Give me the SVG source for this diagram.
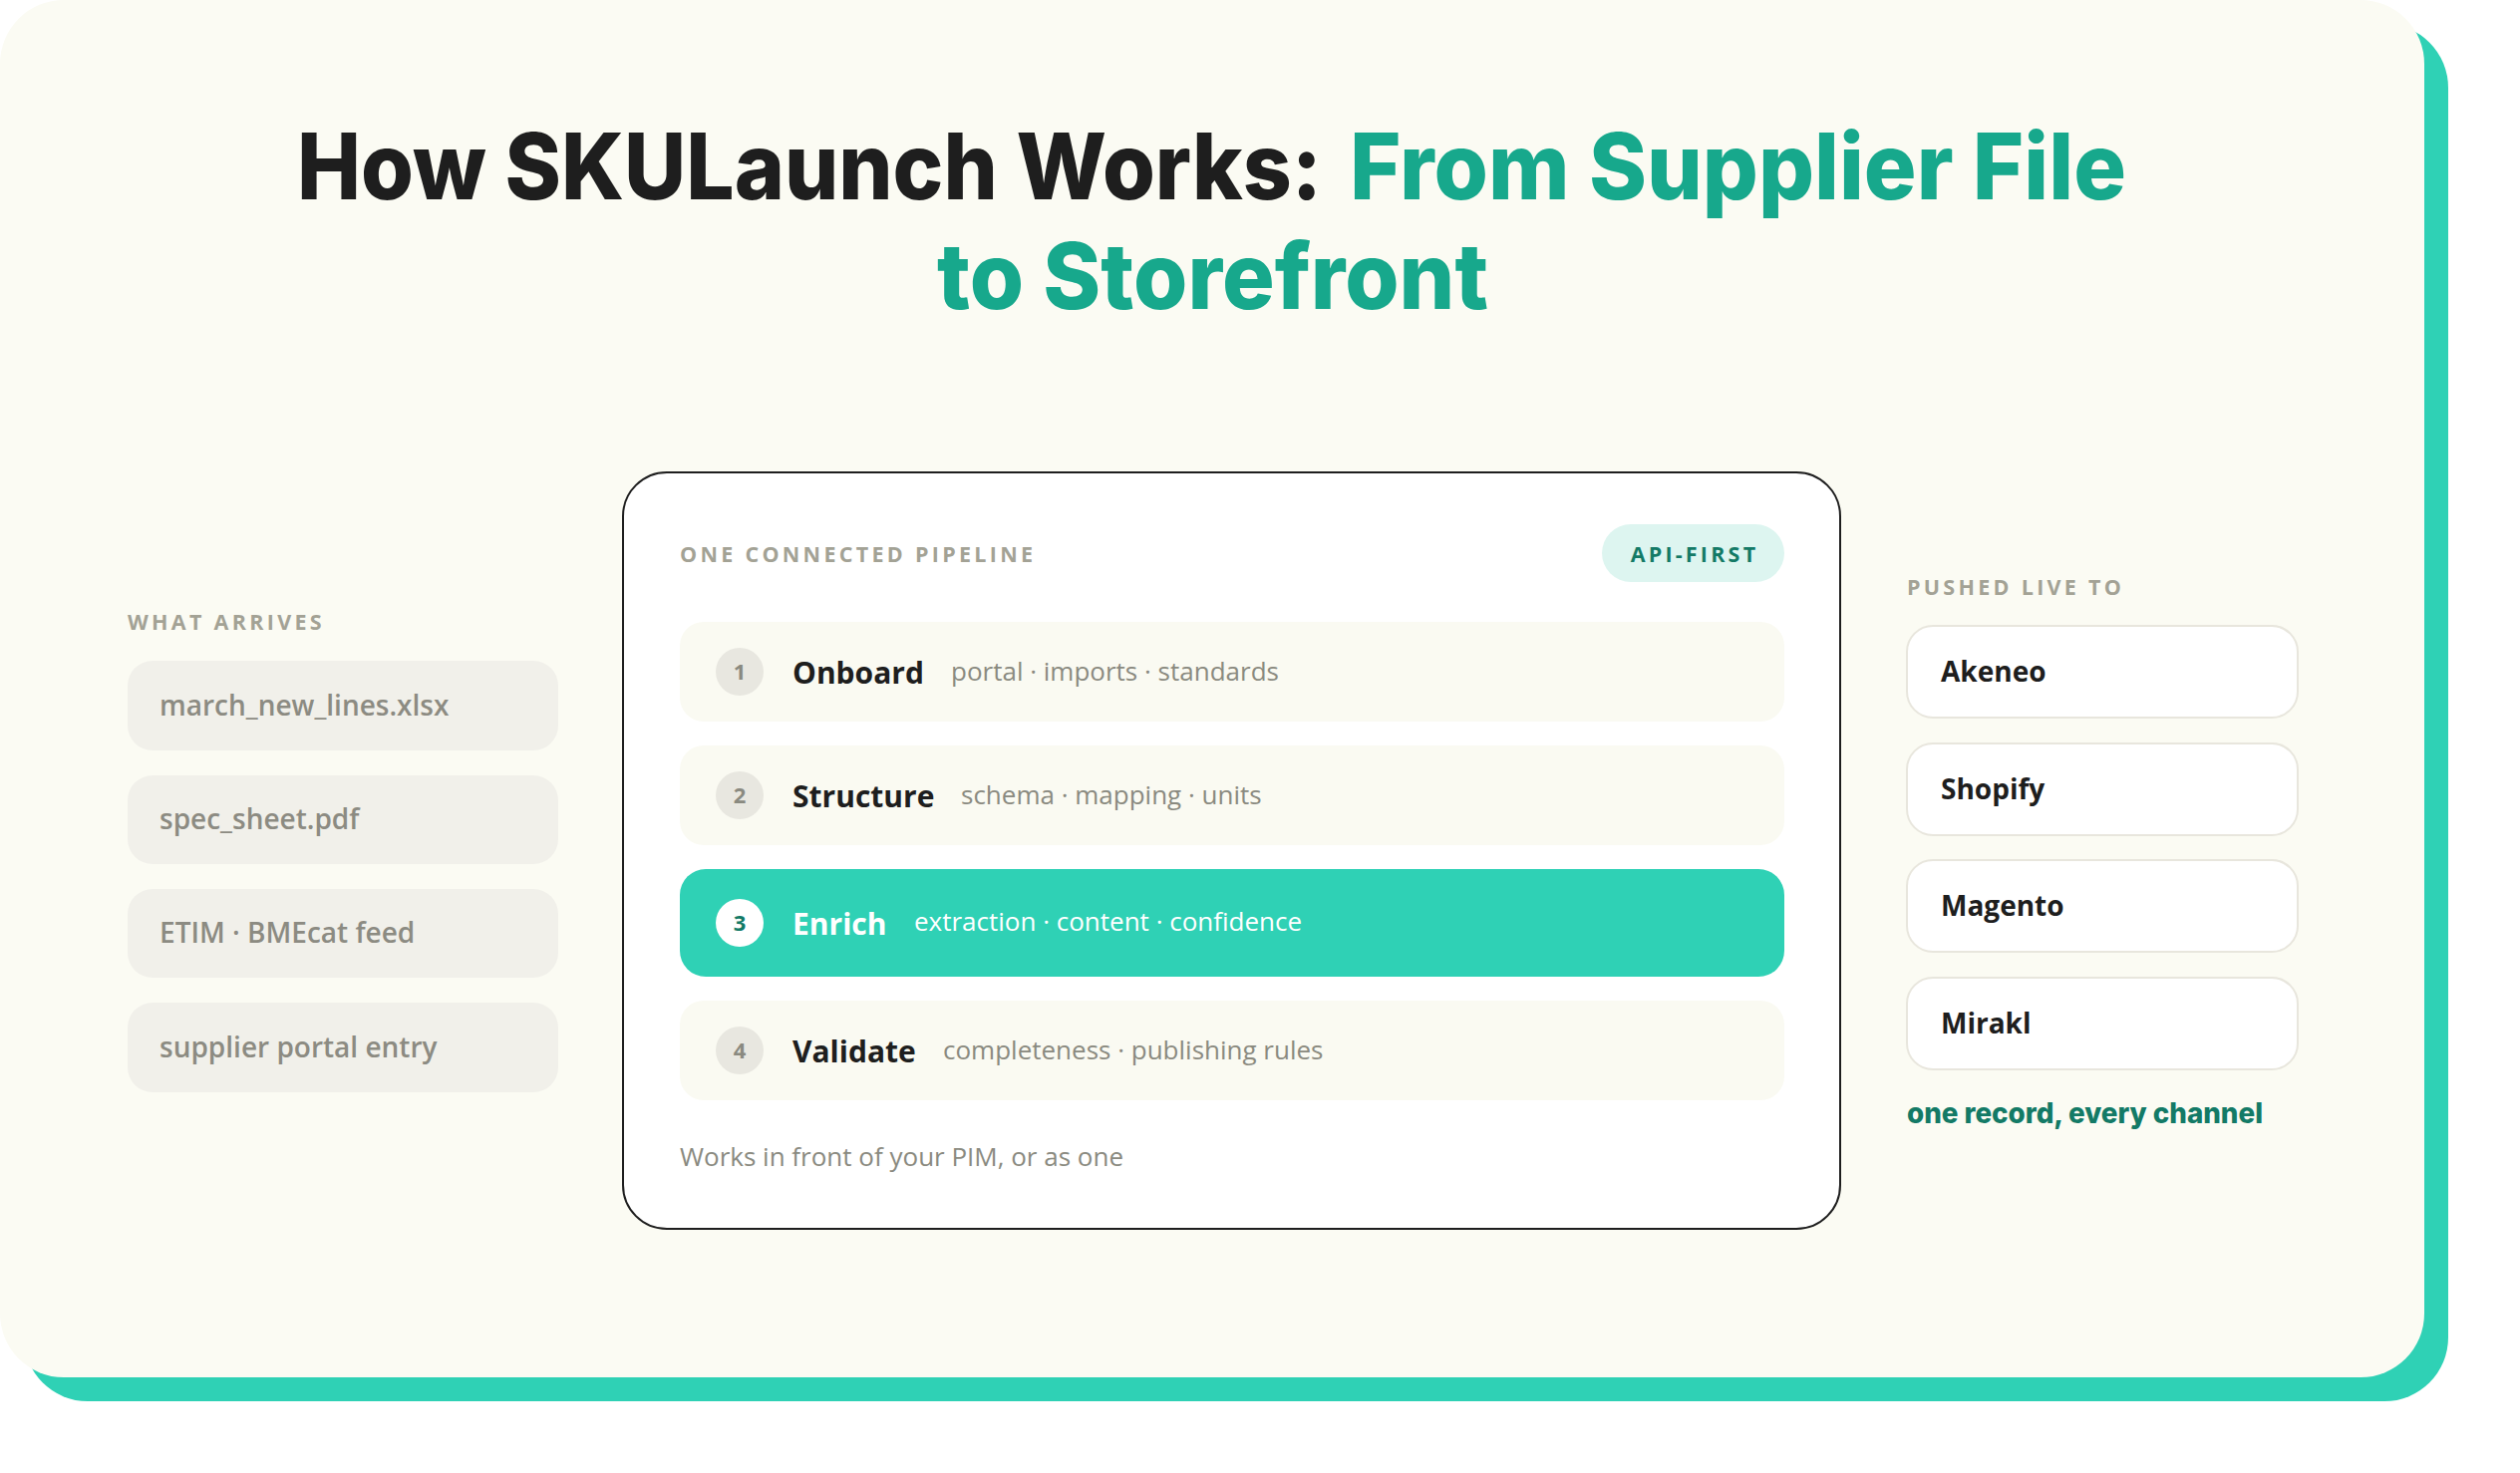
<svg xmlns="http://www.w3.org/2000/svg" width="2528" height="1478" viewBox="0 0 2528 1478">
<style>
.head{font-family:Inter,"Liberation Sans",sans-serif;font-weight:800}
.lbl{font-family:"Open Sans","Liberation Sans",sans-serif;font-weight:700;font-size:21.5px;letter-spacing:3.3px;fill:#A3A295}
.src{font-family:"Open Sans","Liberation Sans",sans-serif;font-weight:600;font-size:28px;fill:#8C8B82}
.srcbox{fill:#F1F0EA}
.row{fill:#FAFAF2}
.num{font-family:"Open Sans","Liberation Sans",sans-serif;font-weight:700;font-size:22px;fill:#8A8A80;text-anchor:middle}
.ttl{font-family:"Open Sans","Liberation Sans",sans-serif;font-weight:700;font-size:30px;fill:#1E1E1E}
.dsc{font-family:"Open Sans","Liberation Sans",sans-serif;font-weight:400;font-size:26px;fill:#8A8A80}
.dst{fill:#FFFFFF;stroke:#E8E6DD;stroke-width:2}
.dstt{font-family:"Open Sans","Liberation Sans",sans-serif;font-weight:700;font-size:28px;fill:#1E1E1E}
</style>
<rect x="0" y="0" width="2528" height="1478" fill="#FFFFFF"/>
<rect x="24" y="24" width="2432" height="1382" rx="64" fill="#2FD1B5"/>
<rect x="0" y="0" width="2432" height="1382" rx="64" fill="#FBFBF3"/>

<g id="title">
<text class="head" x="298" y="200" font-size="92" fill="#1E1E1E" textLength="1028" lengthAdjust="spacingAndGlyphs">How SKULaunch Works:</text>
<text class="head" x="1354" y="200" font-size="92" fill="#17A88C" textLength="779" lengthAdjust="spacingAndGlyphs">From Supplier File</text>
<text class="head" x="940" y="310" font-size="92" fill="#17A88C" textLength="553" lengthAdjust="spacingAndGlyphs">to Storefront</text>
</g>

<g id="sources">
<text class="lbl" x="128" y="632">WHAT ARRIVES</text>
<g id="src-1"><rect class="srcbox" x="128" y="663" width="432" height="90" rx="25"/><text class="src" x="160" y="718">march_new_lines.xlsx</text></g>
<g id="src-2"><rect class="srcbox" x="128" y="778" width="432" height="89" rx="25"/><text class="src" x="160" y="832">spec_sheet.pdf</text></g>
<g id="src-3"><rect class="srcbox" x="128" y="892" width="432" height="89" rx="25"/><text class="src" x="160" y="946">ETIM · BMEcat feed</text></g>
<g id="src-4"><rect class="srcbox" x="128" y="1006" width="432" height="90" rx="25"/><text class="src" x="160" y="1061">supplier portal entry</text></g>
</g>

<g id="pipeline">
<rect x="625" y="474" width="1221" height="759" rx="44" fill="#FFFFFF" stroke="#1E1E1E" stroke-width="2"/>
<text class="lbl" x="682" y="564">ONE CONNECTED PIPELINE</text>
<g id="api-first">
<rect x="1607" y="526" width="183" height="58" rx="29" fill="#DDF5F0"/>
<text class="lbl" x="1700" y="564" text-anchor="middle" style="fill:#137A66;letter-spacing:3.2px">API-FIRST</text>
</g>
<g id="step-1">
<rect class="row" x="682" y="624" width="1108" height="100" rx="24"/>
<circle cx="742" cy="674" r="24" fill="#E8E7E0"/>
<text class="num" x="742" y="682">1</text>
<text class="ttl" x="795" y="686">Onboard</text>
<text class="dsc" x="954" y="683">portal · imports · standards</text>
</g>
<g id="step-2">
<rect class="row" x="682" y="748" width="1108" height="100" rx="24"/>
<circle cx="742" cy="798" r="24" fill="#E8E7E0"/>
<text class="num" x="742" y="806">2</text>
<text class="ttl" x="795" y="810">Structure</text>
<text class="dsc" x="964" y="807">schema · mapping · units</text>
</g>
<g id="step-3">
<rect x="682" y="872" width="1108" height="108" rx="26" fill="#2FD1B5"/>
<circle cx="742" cy="926" r="24" fill="#FFFFFF"/>
<text class="num" x="742" y="934" style="fill:#137A66">3</text>
<text class="ttl" x="795" y="938" style="fill:#FFFFFF">Enrich</text>
<text class="dsc" x="917" y="934" style="fill:#FFFFFF">extraction · content · confidence</text>
</g>
<g id="step-4">
<rect class="row" x="682" y="1004" width="1108" height="100" rx="24"/>
<circle cx="742" cy="1054" r="24" fill="#E8E7E0"/>
<text class="num" x="742" y="1062">4</text>
<text class="ttl" x="795" y="1066">Validate</text>
<text class="dsc" x="946" y="1063">completeness · publishing rules</text>
</g>
<text class="dsc" x="682" y="1170">Works in front of your PIM, or as one</text>
</g>

<g id="destinations">
<text class="lbl" x="1913" y="597">PUSHED LIVE TO</text>
<g id="dst-akeneo"><rect class="dst" x="1913" y="628" width="392" height="92" rx="26"/><text class="dstt" x="1947" y="684">Akeneo</text></g>
<g id="dst-shopify"><rect class="dst" x="1913" y="746" width="392" height="92" rx="26"/><text class="dstt" x="1947" y="802">Shopify</text></g>
<g id="dst-magento"><rect class="dst" x="1913" y="863" width="392" height="92" rx="26"/><text class="dstt" x="1947" y="919">Magento</text></g>
<g id="dst-mirakl"><rect class="dst" x="1913" y="981" width="392" height="92" rx="26"/><text class="dstt" x="1947" y="1037">Mirakl</text></g>
<text class="head" x="1913" y="1127" font-size="29" fill="#137A66" textLength="357" lengthAdjust="spacingAndGlyphs">one record, every channel</text>
</g>

<g id="connectors"></g>
</svg>
